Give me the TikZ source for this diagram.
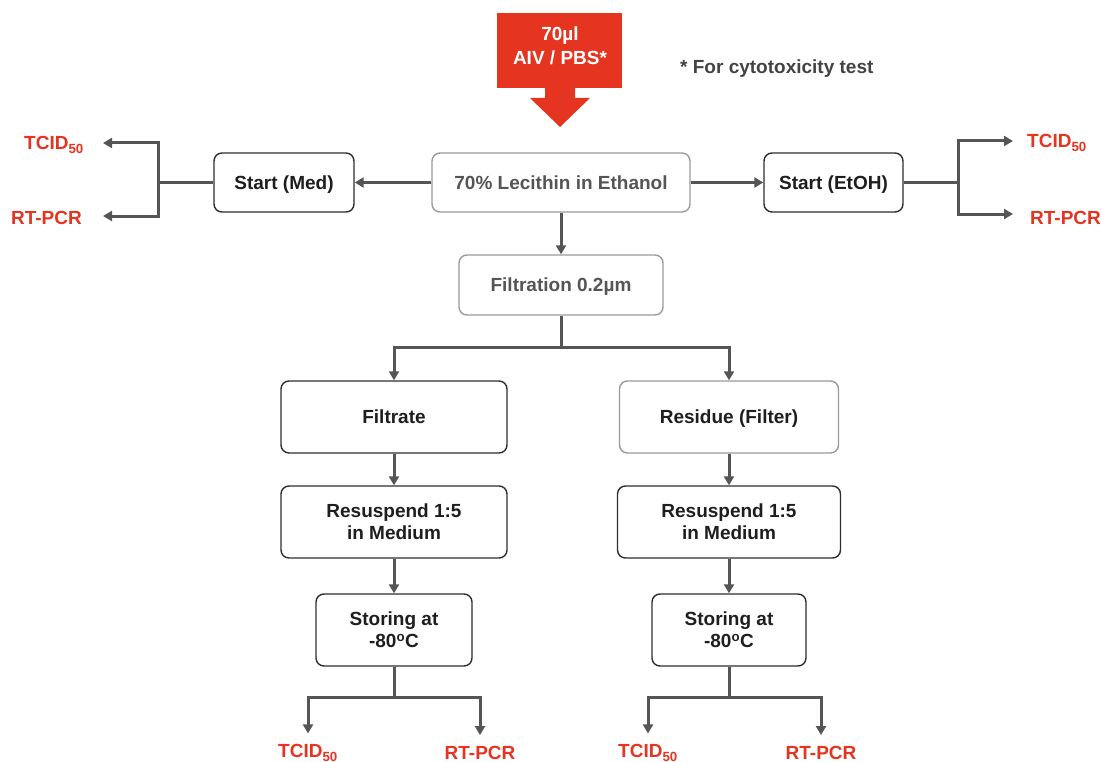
\documentclass[tikz,border=0pt]{standalone}
\usepackage{fontspec}
\setmainfont{Liberation Sans}
\usetikzlibrary{arrows.meta}
\definecolor{flowred}{HTML}{E5341F}
\definecolor{flowline}{HTML}{555555}
\definecolor{darkedge}{HTML}{2E2E2E}
\definecolor{lightedge}{HTML}{9A9A9A}
\definecolor{greytext}{HTML}{555555}
\definecolor{boxtext}{HTML}{1E1E1E}
\tikzset{
  basebox/.style={rounded corners=8pt, line width=1.4pt, fill=white, align=center,
    inner sep=0pt, text depth=0pt, text=boxtext, font=\bfseries\fontsize{19}{22}\selectfont},
  darkbox/.style={basebox, draw=darkedge},
  lightbox/.style={basebox, draw=lightedge},
  ln/.style={draw=flowline, line width=3pt},
  arr/.style={ln, -{Triangle[length=9pt,width=10pt]}},
  result/.style={text=flowred, inner sep=0pt, font=\bfseries\fontsize{19}{22}\selectfont}
}
\begin{document}
\begin{tikzpicture}[x=1pt,y=-1pt]
\useasboundingbox (0,0) rectangle (1102,762);

% sample input arrow
\fill[flowred] (497,13) rectangle (622,88);
\fill[flowred] (545,87) -- (575,87) -- (575,98) -- (590,98) -- (560,127)
  -- (530,98) -- (545,98) -- cycle;
\node[text=white, align=center, font=\bfseries\fontsize{19}{24}\selectfont]
  (sample) at (560,46) {70µl\\AIV / PBS*};
\node[text=darkedge!90, anchor=west, inner sep=0pt, font=\bfseries\fontsize{19}{22}\selectfont]
  (note) at (680,69) {* For cytotoxicity test};

% main chain
\node[lightbox, text=greytext, minimum width=258pt, minimum height=59pt] (lec) at (561,182.5) {70\% Lecithin in Ethanol};
\node[darkbox, minimum width=140pt, minimum height=59pt] (med) at (284,182.5) {Start (Med)};
\node[darkbox, minimum width=139pt, minimum height=59pt] (etoh) at (833.5,182.5) {Start (EtOH)};
\node[lightbox, text=greytext, minimum width=204pt, minimum height=60pt] (filt) at (561,285) {Filtration 0.2µm};

\node[darkbox, minimum width=226pt, minimum height=72pt] (filtrate) at (394,417) {Filtrate};
\node[lightbox, text=boxtext, minimum width=219pt, minimum height=72pt] (residue) at (729,417) {Residue (Filter)};
\node[darkbox, minimum width=226pt, minimum height=72pt] (resl) at (394,522) {Resuspend 1:5\\in Medium};
\node[darkbox, minimum width=223pt, minimum height=72pt] (resr) at (729,522) {Resuspend 1:5\\in Medium};
\node[darkbox, minimum width=156pt, minimum height=72pt] (stl) at (394,630) {Storing at\\-80\textsuperscript{o}C};
\node[darkbox, minimum width=154pt, minimum height=72pt] (str) at (729,630) {Storing at\\-80\textsuperscript{o}C};

% read-out labels
\node[result, anchor=east] (tl) at (84,145) {TCID\textsubscript{50}};
\node[result, anchor=east] (rl) at (82,218) {RT-PCR};
\node[result, anchor=west] (tr) at (1027,143) {TCID\textsubscript{50}};
\node[result, anchor=west] (rr) at (1030,218) {RT-PCR};
\node[result] (tb1) at (308,753) {TCID\textsubscript{50}};
\node[result] (rb1) at (480,753) {RT-PCR};
\node[result] (tb2) at (648,753) {TCID\textsubscript{50}};
\node[result] (rb2) at (821,753) {RT-PCR};

% arrow ends beside the read-out labels
\coordinate (etl) at (103,143);
\coordinate (erl) at (103,216);
\coordinate (etr) at (1013,141);
\coordinate (err) at (1013,214);

% connectors
\draw[arr] (lec.west) -- (med.east);
\draw[arr] (lec.east) -- (etoh.west);
\draw[arr] (lec.south) -- (filt.north);

\coordinate (jl) at (158,182.5);
\coordinate (jr) at (958,182.5);
\draw[ln] (med.west) -- (jl);
\draw[arr] (jl) |- (etl);
\draw[arr] (jl) |- (erl);
\draw[ln] (etoh.east) -- (jr);
\draw[arr] (jr) |- (etr);
\draw[arr] (jr) |- (err);

\coordinate (jf) at (561,347);
\draw[ln] (filt.south) -- (jf);
\draw[arr] (jf) -| (filtrate.north);
\draw[arr] (jf) -| (residue.north);

\draw[arr] (filtrate.south) -- (resl.north);
\draw[arr] (residue.south) -- (resr.north);
\draw[arr] (resl.south) -- (stl.north);
\draw[arr] (resr.south) -- (str.north);

\coordinate (jb1) at (394,697);
\coordinate (jb2) at (729,697);
\draw[ln] (stl.south) -- (jb1);
\draw[arr, shorten >=11pt] (jb1) -| (tb1.north);
\draw[arr, shorten >=11pt] (jb1) -| (rb1.north);
\draw[ln] (str.south) -- (jb2);
\draw[arr, shorten >=11pt] (jb2) -| (tb2.north);
\draw[arr, shorten >=11pt] (jb2) -| (rb2.north);
\end{tikzpicture}
\end{document}
